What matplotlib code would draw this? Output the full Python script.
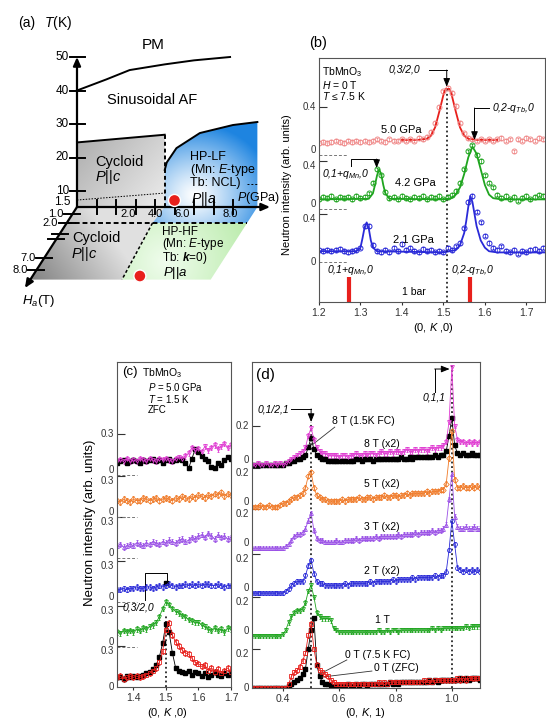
import numpy as np
import matplotlib
matplotlib.use("Agg")
import matplotlib.pyplot as plt
import matplotlib.transforms as mtransforms
from matplotlib.patches import Polygon, Circle

plt.rcParams["font.family"] = ["Liberation Sans", "DejaVu Sans"]
plt.rcParams["mathtext.fontset"] = "custom"
plt.rcParams["mathtext.rm"] = "Liberation Sans"
plt.rcParams["mathtext.it"] = "Liberation Sans:italic"
plt.rcParams["mathtext.bf"] = "Liberation Sans:bold:italic"

W, H = 546, 719

# ---------------- (a) phase diagram: P (GPa), T (K), Ha (T) ----------------
pm_P = [0, 1.5, 2.7, 4.5, 6.0, 7.85]
pm_T = [40, 43.3, 46.1, 47.8, 49.0, 50.0]
cyc_P = [0, 4.5]
cyc_T = [24.5, 26.8]
lf_P = [4.5, 4.6, 5.1, 6.3, 8.0, 9.25]
lf_T = [16.3, 18.5, 22.8, 27.3, 29.7, 30.6]
tb_P = [0, 4.5]
tb_T = [5.2, 8.9]
ncl_P = [8.7, 9.25]
ncl_T = [12.1, 12.1]
hf_P = [4.4, 4.7]
hf_H = [2.0, 8.8]
P_c, P_max, H_c, H_max = 4.5, 9.25, 2.0, 8.8
T_ticks = [10, 20, 30, 40, 50]
P_ticks = [1, 2, 3, 4, 5, 6, 7, 8]
P_labels = [2, 4, 6, 8]
H_ticks = [1, 2, 7, 8]
dot_PT = (5.0, 5.0)
dot_PH = (5.5, 8.5)

# ---------------- (b) TbMnO3, H = 0 T, T < 7.5 K ----------------
b_K = np.round(np.arange(1.20, 1.745, 0.01), 2)
b_off = {"5.0": 0.892, "4.2": 0.442, "2.1": 0.0}
b_50 = [.10, .11, .10, .11, .12, .11, .10, .12, .11, .12,
        .11, .12, .11, .12, .13, .12, .11, .13, .12, .12,
        .13, .12, .13, .12, .14, .13, .15, .19, .27, .40,
        .53, .56, .52, .41, .27, .18, .14, .13, .12, .13,
        .12, .13, .12, .13, .14, .12, .13, .03, .13, .12,
        .14, .13, .12, .14, .13]
b_42 = [.08, .10, .09, .11, .08, .10, .09, .10, .08, .11,
        .09, .10, .13, .22, .33, .28, .14, .09, .10, .08,
        .11, .09, .08, .10, .09, .11, .08, .10, .09, .11,
        .08, .10, .12, .15, .22, .33, .48, .53, .45, .40,
        .28, .22, .18, .12, .09, .11, .08, .10, .07, .09,
        .11, .08, .10, .12, .11]
b_21 = [.10, .09, .10, .09, .10, .11, .09, .08, .09, .10,
        .12, .30, .30, .14, .09, .08, .10, .08, .12, .09,
        .15, .10, .12, .09, .08, .11, .09, .10, .08, .09,
        .08, .12, .10, .13, .16, .28, .50, .55, .42, .33,
        .22, .16, .12, .10, .13, .09, .08, .10, .07, .09,
        .08, .10, .11, .09, .12]
fit50_K = [1.40, 1.44, 1.46, 1.47, 1.48, 1.49, 1.50, 1.505, 1.515, 1.52, 1.53, 1.54, 1.55, 1.56, 1.58, 1.63]
fit50_I = [.125, .126, .135, .16, .23, .36, .50, .55, .55, .50, .36, .23, .16, .135, .126, .125]
fit42_K = [1.20, 1.32, 1.33, 1.335, 1.34, 1.345, 1.35, 1.355, 1.36, 1.37, 1.50, 1.52, 1.53,
           1.54, 1.55, 1.56, 1.57, 1.58, 1.59, 1.60, 1.61, 1.62, 1.64, 1.745]
fit42_I = [.08, .085, .13, .20, .28, .33, .29, .20, .13, .085, .08, .09, .12,
           .18, .29, .43, .52, .46, .33, .20, .12, .09, .08, .08]
fit21_K = [1.20, 1.29, 1.30, 1.305, 1.31, 1.315, 1.32, 1.325, 1.33, 1.34, 1.50, 1.53, 1.54,
           1.55, 1.555, 1.56, 1.565, 1.57, 1.575, 1.58, 1.59, 1.60, 1.61, 1.63, 1.745]
fit21_I = [.09, .09, .12, .20, .29, .33, .28, .18, .12, .09, .08, .10, .14,
           .24, .34, .46, .55, .50, .40, .30, .18, .12, .09, .08, .08]
bar_K = [1.272, 1.563]   # 1 bar positions
bar_top = -0.125

# ---------------- (c) P = 5.0 GPa, T = 1.5 K, ZFC ----------------
c_K = np.round(np.arange(1.35, 1.705, 0.01), 2)
c_off = [0.0, 0.293, 0.622, 0.944, 1.244, 1.551]   # 0T, 1T, 2T, 3T, 5T, 8T
c_8T = [.10, .11, .10, .12, .10, .11, .10, .12, .11, .10, .12, .11, .10, .12, .11, .12, .11, .10,
        .12, .13, .12, .14, .16, .20, .18, .19, .17, .21, .18, .20, .22, .19, .21, .23, .20, .22]
c_8T_k = [.09, .10, .11, .09, .10, .11, .10, .09, .11, .10, .11, .12, .10, .11, .09, .11, .12, .10,
          .11, .12, .11, .09, .05, .12, .19, .17, .14, .12, .10, .06, .05, .09, .07, .11, .13, .12]
c_5T = [.12, .11, .13, .12, .11, .13, .12, .12, .14, .13, .12, .13, .14, .12, .13, .14, .13, .12,
        .14, .13, .15, .14, .13, .15, .14, .16, .15, .14, .16, .15, .17, .16, .18, .15, .17, .16]
c_3T = [.09, .10, .08, .09, .10, .09, .11, .10, .09, .11, .10, .12, .11, .10, .12, .11, .13, .12,
        .11, .13, .14, .12, .13, .15, .14, .16, .17, .15, .18, .16, .14, .17, .15, .16, .14, .15]
c_2T = [.09, .09, .10, .09, .10, .10, .11, .10, .10, .11, .11, .10, .11, .12, .11, .12, .13, .12,
        .11, .12, .12, .13, .12, .13, .12, .13, .12, .13, .13, .12, .12, .13, .12, .11, .12, .12]
c_2T_kK = [1.50]
c_2T_k = [0.14]
c_1T = [.11, .10, .12, .11, .12, .11, .13, .12, .14, .13, .15, .16, .18, .22, .28, .33, .31, .28,
        .26, .25, .23, .22, .20, .19, .18, .18, .16, .15, .13, .12, .14, .12, .13, .11, .14, .13]
c_0T = [.07, .08, .06, .07, .08, .07, .08, .07, .08, .09, .10, .12, .14, .18, .26, .42, .47, .38,
        .33, .30, .27, .25, .24, .21, .18, .17, .15, .16, .12, .14, .11, .13, .10, .12, .14, .11]
c_0T_k = [.07, .07, .06, .08, .07, .08, .07, .08, .09, .10, .11, .13, .16, .22, .32, .46, .40, .25,
          .14, .12, .11, .10, .12, .09, .11, .10, .08, .10, .07, .09, .11, .09, .08, .10, .09, .10]

# ---------------- (d) (0, K, 1) scans in field ----------------
d_K = np.round(np.arange(0.29, 1.105, 0.01), 2)
d_off = [0.0, 0.267, 0.487, 0.718, 0.928, 1.144]   # 0T, 1T, 2T, 3T, 5T, 8T
d_8T = [.00, .00, .01, .00, .00, .01, .00, .00, .01, .00,
        .01, .00, .01, .02, .03, .04, .05, .06, .07, .09,
        .15, .19, .13, .09, .07, .06, .06, .05, .05, .05,
        .05, .04, .05, .05, .04, .05, .05, .06, .05, .05,
        .06, .05, .06, .06, .05, .06, .07, .06, .06, .07,
        .06, .07, .07, .06, .07, .08, .07, .07, .08, .07,
        .08, .08, .07, .08, .09, .08, .09, .09, .10, .12,
        .22, .50, .20, .13, .12, .12, .11, .12, .11, .12,
        .11, .12]
d_8T_fc = [.00, .00, .00, .00, .00, .00, .00, .00, .00, .00,
           .00, .00, .01, .01, .02, .02, .03, .03, .04, .05,
           .09, .14, .08, .05, .04, .03, .03, .02, .02, .02,
           .02, .02, .02, .02, .02, .02, .02, .03, .03, .02,
           .03, .03, .03, .02, .03, .03, .03, .03, .03, .03,
           .03, .03, .03, .04, .03, .03, .04, .03, .04, .04,
           .04, .04, .04, .04, .04, .05, .04, .05, .05, .07,
           .15, .24, .10, .06, .05, .06, .05, .05, .06, .05,
           .05, .05]
d_5T = [.00, .00, .00, .01, .00, .00, .01, .00, .00, .00,
        .01, .02, .02, .03, .04, .05, .05, .06, .07, .10,
        .16, .18, .10, .06, .05, .04, .04, .03, .03, .03,
        .03, .03, .04, .03, .04, .04, .04, .04, .05, .04,
        .04, .05, .05, .04, .05, .05, .05, .06, .05, .05,
        .06, .06, .05, .06, .06, .07, .06, .07, .07, .07,
        .07, .07, .08, .07, .08, .08, .08, .09, .09, .12,
        .25, .39, .14, .10, .10, .11, .10, .10, .11, .10,
        .11, .10]
d_3T = [.00, .00, .00, .00, .00, .00, .00, .00, .00, .00,
        .00, .00, .01, .02, .04, .06, .07, .07, .08, .10,
        .14, .18, .09, .05, .04, .04, .03, .03, .03, .03,
        .04, .03, .03, .04, .04, .04, .04, .05, .04, .05,
        .05, .05, .05, .05, .06, .05, .06, .06, .06, .06,
        .06, .06, .07, .06, .07, .07, .07, .07, .08, .07,
        .08, .08, .08, .08, .09, .08, .09, .09, .10, .12,
        .25, .38, .16, .11, .10, .10, .11, .10, .10, .11,
        .10, .10]
d_2T = [.00, .00, .00, .00, .00, .00, .00, .00, .00, .00,
        .00, .00, .01, .02, .04, .05, .06, .06, .06, .09,
        .14, .17, .10, .06, .05, .05, .04, .04, .04, .04,
        .04, .04, .04, .05, .04, .05, .05, .05, .05, .05,
        .05, .05, .06, .05, .06, .06, .06, .06, .06, .06,
        .07, .06, .07, .07, .07, .07, .07, .08, .07, .08,
        .08, .08, .08, .08, .08, .09, .08, .09, .09, .11,
        .22, .37, .25, .13, .12, .11, .12, .11, .12, .11,
        .12, .11]
d_1T = [.00, .00, .00, .00, .00, .00, .00, .00, .00, .00,
        .00, .01, .03, .07, .10, .12, .13, .13, .14, .17,
        .23, .26, .20, .12, .10, .09, .09, .09, .08, .04,
        .03, .02, .02, .02, .02, .02, .02, .02, .02, .02,
        .02, .02, .02, .02, .02, .03, .02, .02, .03, .02,
        .03, .03, .02, .03, .03, .03, .03, .03, .03, .03,
        .03, .03, .03, .03, .04, .03, .04, .03, .04, .04,
        .04, .04, .04, .04, .04, .04, .05, .04, .05, .05,
        .05, .05]
d_0T_fc = [.00, .00, .00, .00, .00, .00, .00, .00, .00, .00,
           .00, .00, .00, .02, .06, .08, .09, .11, .14, .18,
           .27, .33, .20, .12, .09, .08, .07, .06, .04, .03,
           .02, .02, .02, .02, .02, .02, .02, .02, .02, .02,
           .02, .02, .02, .02, .02, .03, .02, .03, .02, .03,
           .03, .03, .03, .03, .03, .03, .03, .03, .03, .03,
           .03, .04, .03, .04, .03, .04, .04, .04, .04, .04,
           .04, .04, .04, .05, .04, .05, .04, .05, .05, .05,
           .05, .05]
d_0T_zfc = [.00, .00, .00, .00, .00, .00, .00, .00, .00, .00,
            .00, .00, .00, .01, .02, .03, .04, .05, .07, .10,
            .20, .30, .36, .12, .06, .03, .02, .02, .01, .01,
            .01, .01, .01, .01, .02, .01, .01, .02, .01, .02,
            .02, .01, .02, .02, .02, .02, .02, .02, .02, .03,
            .02, .03, .02, .03, .03, .03, .03, .03, .03, .03,
            .03, .03, .03, .04, .03, .04, .03, .04, .04, .04,
            .04, .04, .04, .04, .05, .04, .05, .04, .05, .05,
            .05, .04]

RED, GREEN, BLUE = "#e8201c", "#1fa51f", "#2a2ad8"
PINK, ORANGE, PURPLE = "#e03cd2", "#f07a28", "#9a50e6"

fig = plt.figure(figsize=(W / 100, H / 100), dpi=100)
PX = mtransforms.Affine2D().scale(1 / W, -1 / H).translate(0, 1) + fig.transFigure


def ptxt(x, y, s, size=8, **kw):
    kw.setdefault("ha", "center")
    kw.setdefault("va", "center")
    fig.text(x, y, s, transform=PX, fontsize=size, **kw)


def px_axes(l, t, r, b):
    return fig.add_axes([l / W, 1 - b / H, (r - l) / W, (b - t) / H])


# ---------- panel (a) drawn in pixel space with a simple oblique projection ----------
def t2y(T):
    return np.interp(T, [1.5, 10, 50], [207, 191, 57])


def h2y(h):
    return np.interp(h, [0, 1, 2, 7, 8, 9.5], [207, 214, 223, 258, 270, 288])


def up(P, T):
    P, T = np.broadcast_arrays(np.atleast_1d(P).astype(float), np.atleast_1d(T).astype(float))
    return np.column_stack([77 + 19.5 * P, t2y(T)])


def lo(P, h):
    P, h = np.broadcast_arrays(np.atleast_1d(P).astype(float), np.atleast_1d(h).astype(float))
    y = h2y(h)
    return np.column_stack([77 + 19.5 * P - 0.643 * (y - 207), y])


axA = fig.add_axes([0, 0, 1, 1])
axA.set_xlim(0, W)
axA.set_ylim(H, 0)
axA.axis("off")

yy, xx = np.mgrid[0:300, 0:272] + 0.5


def shade(poly, rgb):
    patch = Polygon(poly, closed=True, fc="none", ec="none")
    axA.add_patch(patch)
    im = axA.imshow(np.clip(rgb, 0, 1), extent=(0, 272, 300, 0), origin="upper",
                    aspect="auto", interpolation="bilinear", zorder=1)
    im.set_clip_path(patch)


t = np.clip(0.6 * (xx - 77) / 88 + 0.4 * (yy - 140) / 67, 0, 1)
shade(np.vstack([up(0, 1.5), up(cyc_P, cyc_T), up(P_c, 1.5)]), np.dstack([0.68 + 0.25 * t] * 3))
t = np.clip((xx - 25) / 115 + (275 - yy) / 160, 0, 1)
shade(np.vstack([lo(0, 0), lo(P_c, 0), lo(hf_P, hf_H), lo(0, H_max)]), np.dstack([0.5 + 0.38 * t] * 3))
t = np.clip(np.hypot(xx - 195, (yy - 195) * 1.1) / 78, 0, 1)[..., None] ** 1.2
shade(np.vstack([up(lf_P, lf_T), up(P_max, 1.5), lo(P_max, H_c), lo(hf_P[0], H_c), lo(P_c, 0)]),
      (1 - t) * np.array([1, 1, 1]) + t * np.array([0.12, 0.52, 0.88]))
t = np.clip(np.hypot(xx - 165, yy - 262) / 95, 0, 1)[..., None]
shade(np.vstack([lo(hf_P[0], H_c), lo(P_max, H_c), lo(P_max, H_max), lo(hf_P[1], H_max)]),
      (1 - t) * np.array([0.94, 0.99, 0.93]) + t * np.array([0.72, 0.92, 0.66]))

axA.plot(*up(pm_P, pm_T).T, color="k", lw=1.4, zorder=3)
axA.plot(*up(cyc_P, cyc_T).T, color="k", lw=1.4, zorder=3)
axA.plot(*up(lf_P, lf_T).T, color="k", lw=1.4, zorder=3)
axA.plot(*np.vstack([up(P_c, 1.5), up(P_c, cyc_T[1])]).T, color="k", lw=1.4, ls=(0, (2, 1.5)), zorder=3)
axA.plot(*up(tb_P, tb_T).T, color="k", lw=0.7, ls=(0, (1.5, 1.5)), zorder=3)
axA.plot(*up(ncl_P, ncl_T).T, color="k", lw=0.7, ls=(0, (2, 2)), zorder=3)
axA.plot(*np.vstack([lo(0, H_c), lo(P_max, H_c)]).T, color="k", lw=1.4, ls=(0, (2.5, 1.5)), zorder=3)
axA.plot(*lo(hf_P, hf_H).T, color="k", lw=1.1, ls=(0, (2, 1.5)), zorder=3)

arr = dict(arrowstyle="-|>,head_length=0.5,head_width=0.22", lw=1.6, color="k", shrinkA=0, shrinkB=0)
axA.annotate("", xy=tuple(up(0, 56.5)[0]), xytext=tuple(up(0, 1.5)[0]), arrowprops=arr, zorder=4)
axA.annotate("", xy=tuple(up(9.9, 1.5)[0]), xytext=tuple(up(0, 1.5)[0]), arrowprops=arr, zorder=4)
axA.annotate("", xy=tuple(lo(0, 9.6)[0]), xytext=tuple(lo(0, 0)[0]), arrowprops=arr, zorder=4)

for T in T_ticks:
    y = t2y(T)
    axA.plot([70, 85], [y, y], color="k", lw=1.4, zorder=4)
    ptxt(69, y, str(T), 8.5, ha="right")
ptxt(71, 202, "1.5", 8.5, ha="right")
for P in P_ticks:
    x = up(P, 1.5)[0, 0]
    axA.plot([x, x], [200, 214], color="k", lw=1.4, zorder=4)
for P, dx in zip(P_labels, [12, 0, -12, -3]):
    ptxt(up(P, 1.5)[0, 0] + dx, 214, f"{P:.1f}", 8)
for hv in H_ticks:
    x, y = lo(0, hv)[0]
    axA.plot([x - 8, x + 8], [y, y], color="k", lw=1.4, zorder=4)
    ptxt(x - 9, y, f"{hv:.1f}", 8, ha="right")
for hv in [3.6, 4.3]:
    x, y = lo(0, hv)[0]
    axA.plot([x - 8, x + 8], [y, y], color="k", lw=1.4, zorder=4)

for (x, y) in [up(*dot_PT)[0], lo(*dot_PH)[0]]:
    axA.add_patch(Circle((x, y), 6, fc=RED, ec="white", lw=1, zorder=5))

ptxt(27, 23, "(a)", 10)
ptxt(58, 23, "$T$(K)", 10)
ptxt(153, 45, "PM", 11)
ptxt(152, 100, "Sinusoidal AF", 10.5)
ptxt(119, 162, "Cycloid", 10.5)
ptxt(95, 177, "$P$||$c$", 10.5, ha="left")
ptxt(190, 170, "HP-LF\n(Mn: $E$-type\nTb: NCL)", 9, ha="left", linespacing=0.88)
ptxt(191, 199, "$P$||$a$", 10, ha="left")
ptxt(237, 198, "$P$(GPa)", 9, ha="left")
ptxt(96, 238, "Cycloid", 10.5)
ptxt(71, 254, "$P$||$c$", 10.5, ha="left")
ptxt(162, 246, "HP-HF\n(Mn: $E$-type\nTb: $\\mathbf{k}$=0)", 8.5, ha="left", linespacing=0.8)
ptxt(163, 273, "$P$||$a$", 9.5, ha="left")
ptxt(22, 301, "$H_a$(T)", 9.5, ha="left")


def style(ax):
    for s in ax.spines.values():
        s.set_linewidth(0.8)
        s.set_color("#555555")
    ax.tick_params(axis="y", which="major", direction="in", length=6, width=0.8,
                   labelleft=False, colors="#333333")
    ax.tick_params(axis="x", direction="out", length=2.5, width=0.8, labelsize=7.5,
                   colors="#333333", pad=2)


def ylabels(ax, offs, step, lbl, stacked_top, stacked_zero):
    """Offset-stack labels: '0' at each zero, lbl at zero+step; nudge stacked pairs apart."""
    base = mtransforms.blended_transform_factory(ax.transAxes, ax.transData)
    ax.set_yticks([o + step for o in offs])
    for i, o in enumerate(offs):
        for y, s, dy in [(o, "0", 3.4 if stacked_zero[i] else 0),
                         (o + step, lbl, -3.4 if stacked_top[i] else 0)]:
            tr = mtransforms.offset_copy(base, fig=fig, x=-2.5, y=dy, units="points")
            ax.text(0, y, s, transform=tr, ha="right", va="center", fontsize=7, color="#333333")


def bracket(ax, xs, ys, arrow=True, lw=0.7):
    ax.plot(xs[:-1] if arrow else xs, ys[:-1] if arrow else ys, color="k", lw=lw)
    if arrow:
        ax.annotate("", xy=(xs[-1], ys[-1]), xytext=(xs[-2], ys[-2]),
                    arrowprops=dict(arrowstyle="-|>,head_length=0.5,head_width=0.2", lw=lw,
                                    color="k", shrinkA=0, shrinkB=0))


# ---------- panel (b) ----------
axB = px_axes(319, 58, 545, 302)
style(axB)
axB.set_xlim(1.2, 1.745)
axB.set_ylim(-0.333, 1.70)
axB.set_xticks([1.2, 1.3, 1.4, 1.5, 1.6, 1.7])
offs = list(b_off.values())
ylabels(axB, offs, 0.4, "0.4", [False, True, True], [True, True, False])
for o in offs:
    axB.plot([1.2, 1.267], [o, o], color="#777777", lw=0.7, ls=(0, (3, 2)))
for vals, fk, fi, o, cd, cf in [(b_50, fit50_K, fit50_I, b_off["5.0"], "#f08a8a", RED),
                                (b_42, fit42_K, fit42_I, b_off["4.2"], GREEN, GREEN),
                                (b_21, fit21_K, fit21_I, b_off["2.1"], BLUE, BLUE)]:
    axB.errorbar(b_K, np.array(vals) + o, yerr=0.015, fmt="o", ms=3.6, mfc="none", mec=cd,
                 mew=0.7, ecolor=cd, elinewidth=0.5, capsize=1)
    axB.plot(fk, np.array(fi) + o, color=cf, lw=1.3)
axB.plot([1.508, 1.508], [-0.333, 1.45], color="k", lw=1.1, ls=(0, (1.2, 1.8)))
for k in bar_K:
    axB.plot([k, k], [-0.333, bar_top], color=RED, lw=3, solid_capstyle="butt")
bracket(axB, [1.465, 1.508, 1.508], [1.60, 1.60, 1.46])
bracket(axB, [1.611, 1.575, 1.575], [1.283, 1.283, 1.017])
bracket(axB, [1.277, 1.277, 1.339, 1.339], [0.80, 0.858, 0.858, 0.783])

ptxt(318, 43, "(b)", 10.5)
ptxt(322, 84, "TbMnO$_3$\n$H$ = 0 T\n$T$ ≤ 7.5 K", 7.5, ha="left", linespacing=0.95)
ptxt(404, 70, "0,3/2,0", 7.5, style="italic")
ptxt(513, 108, "0,2-$q_{Tb}$,0", 7.5, style="italic")
ptxt(346, 174, "0,1+$q_{Mn}$,0", 7.5, style="italic")
ptxt(401, 130, "5.0 GPa", 8)
ptxt(415, 183, "4.2 GPa", 8)
ptxt(413, 240, "2.1 GPa", 8)
ptxt(351, 270, "0,1+$q_{Mn}$,0", 7.5, style="italic")
ptxt(472, 270, "0,2-$q_{Tb}$,0", 7.5, style="italic")
ptxt(414, 292, "1 bar", 7.5)
ptxt(433, 328, "(0, $K$ ,0)", 8)
ptxt(287, 185, "Neutron intensity (arb. units)", 8, rotation=90)

# ---------- panel (c) ----------
axC = px_axes(117, 362, 231, 687)
style(axC)
axC.set_xlim(1.35, 1.70)
axC.set_ylim(0, 2.378)
axC.set_xticks([1.4, 1.5, 1.6, 1.7])
ylabels(axC, c_off, 0.3, "0.3", [True] * 5 + [False], [False] + [True] * 5)
for o in c_off[1:]:
    axC.plot([1.35, 1.41], [o, o], color="#777777", lw=0.7, ls=(0, (3, 2)))
c_series = [(c_0T, RED, "s"), (c_1T, GREEN, "v"), (c_2T, BLUE, "o"),
            (c_3T, PURPLE, "^"), (c_5T, ORANGE, "D"), (c_8T, PINK, "v")]
for (vals, col, mk), o in zip(c_series, c_off):
    axC.errorbar(c_K, np.array(vals) + o, yerr=0.02, fmt="-" + mk, ms=2.8, mfc="none", mec=col,
                 mew=0.6, color=col, lw=0.6, ecolor=col, elinewidth=0.5, capsize=1)
for vals, o in [(c_0T_k, c_off[0]), (c_8T_k, c_off[5])]:
    axC.plot(c_K, np.array(vals) + o, "s-", ms=2.4, color="k", lw=0.6)
axC.plot(c_2T_kK, np.array(c_2T_k) + c_off[2], "s", ms=2.6, color="k")
axC.plot([1.5, 1.5], [0, 0.53], color="k", lw=1.1, ls=(0, (1.2, 1.8)))
bracket(axC, [1.436, 1.436, 1.503, 1.503], [0.637, 0.834, 0.834, 0.77], arrow=False)

ptxt(130, 372, "(c)", 9.5)
ptxt(142, 373, "TbMnO$_3$", 7.5, ha="left")
ptxt(148, 398, "$P$ = 5.0 GPa\n$T$ = 1.5 K\nZFC", 7, ha="left", linespacing=0.95)
ptxt(138, 607, "0,3/2,0", 7.5, style="italic")
ptxt(167, 713, "(0, $K$ ,0)", 8)
ptxt(90, 523, "Neutron intensity (arb. units)", 9.5, rotation=90)

# ---------- panel (d) ----------
axD = px_axes(252, 362, 480, 688)
style(axD)
axD.set_xlim(0.29, 1.10)
axD.set_ylim(0, 1.672)
axD.set_xticks([0.4, 0.6, 0.8, 1.0])
ylabels(axD, d_off, 0.2, "0.2", [True] * 5 + [False], [False] + [True] * 5)
d_series = [(d_0T_fc, RED, "s"), (d_1T, GREEN, "v"), (d_2T, BLUE, "o"),
            (d_3T, PURPLE, "^"), (d_5T, ORANGE, "D"), (d_8T, PINK, "v")]
axD.plot([0.5, 0.5], [0, 1.364], color="k", lw=1.1, ls=(0, (1.2, 1.8)))
axD.plot([1.0, 1.0], [0, 1.672], color="k", lw=1.1, ls=(0, (1.2, 1.8)))
for (vals, col, mk), o in zip(d_series, d_off):
    axD.errorbar(d_K, np.array(vals) + o, yerr=0.012, fmt="-" + mk, ms=2.8, mfc="none", mec=col,
                 mew=0.6, color=col, lw=0.6, ecolor=col, elinewidth=0.5, capsize=1)
for vals, o in [(d_0T_zfc, d_off[0]), (d_8T_fc, d_off[5])]:
    axD.plot(d_K, np.array(vals) + o, "s-", ms=2.4, color="k", lw=0.6)
bracket(axD, [0.43, 0.50, 0.50], [1.431, 1.431, 1.364])
bracket(axD, [0.939, 0.939, 0.992], [1.518, 1.636, 1.636])
axD.plot([0.584, 0.503], [1.338, 1.246], color="#333333", lw=0.6)
axD.plot([0.627, 0.531], [0.144, 0.072], color="#333333", lw=0.6)
axD.plot([0.716, 0.538], [0.087, 0.056], color="#333333", lw=0.6)

ptxt(265, 375, "(d)", 11)
ptxt(273, 409, "0,1/2,1", 7.5, style="italic")
ptxt(363, 421, "8 T (1.5K FC)", 7.5)
ptxt(382, 444, "8 T (x2)", 7.5)
ptxt(382, 484, "5 T (x2)", 7.5)
ptxt(382, 527, "3 T (x2)", 7.5)
ptxt(382, 571, "2 T (x2)", 7.5)
ptxt(382, 620, "1 T", 7.5)
ptxt(378, 655, "0 T (7.5 K FC)", 7.5)
ptxt(396, 668, "0 T (ZFC)", 7.5)
ptxt(434, 398, "0,1,1", 7.5, style="italic")
ptxt(365, 713, "(0, $K$, 1)", 8)

fig.savefig("out.png", dpi=100)
